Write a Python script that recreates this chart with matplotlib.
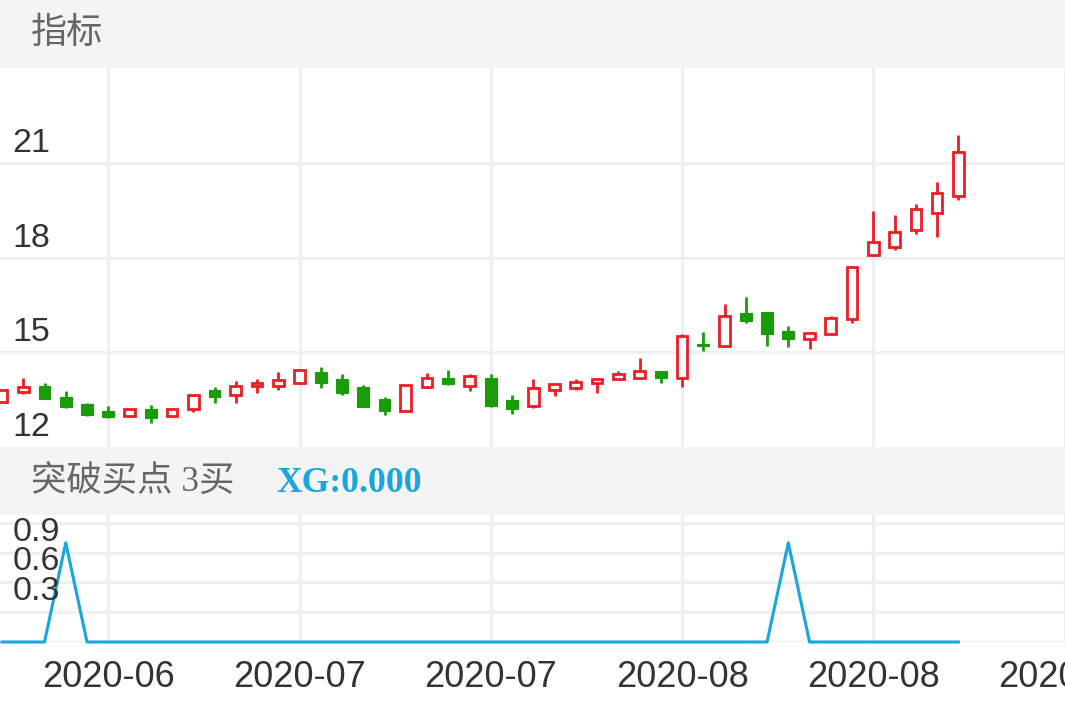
import matplotlib
matplotlib.use("Agg")
import matplotlib.pyplot as plt
from matplotlib.patches import Rectangle
from matplotlib.transforms import blended_transform_factory, offset_copy

# datos de las velas (precio)
aperturas = [13.42, 13.74, 13.94, 13.58, 13.36, 13.14, 12.98, 13.22, 12.98, 13.20,
             13.80, 13.64, 13.94, 13.93, 14.04, 14.38, 14.15, 13.90, 13.51, 13.14,
             13.90, 14.19, 13.94, 14.19, 13.48, 13.29, 13.80, 13.87, 14.03, 14.14,
             14.20, 14.41, 14.20, 15.27, 15.20, 16.25, 16.27, 15.69, 15.43, 15.57,
             16.05, 18.09, 18.35, 18.88, 19.40, 19.96]
cierres = [13.80, 13.90, 13.52, 13.27, 13.01, 12.95, 13.20, 12.93, 13.21, 13.64,
           13.59, 13.94, 14.03, 14.12, 14.43, 14.03, 13.70, 13.27, 13.15, 13.98,
           14.19, 13.99, 14.24, 13.30, 13.22, 13.88, 13.99, 14.06, 14.17, 14.30,
           14.40, 14.20, 15.51, 15.19, 16.14, 15.99, 15.59, 15.43, 15.62, 16.10,
           17.69, 18.51, 18.80, 19.54, 20.04, 21.36]
maximos = [13.82, 14.18, 14.02, 13.77, 13.39, 13.29, 13.22, 13.33, 13.23, 13.64,
           13.89, 14.08, 14.15, 14.38, 14.43, 14.52, 14.30, 13.98, 13.57, 13.98,
           14.33, 14.43, 14.30, 14.30, 13.64, 14.15, 14.01, 14.15, 14.17, 14.40,
           14.82, 14.41, 15.57, 15.64, 16.52, 16.75, 16.29, 15.85, 15.66, 16.14,
           17.69, 19.48, 19.36, 19.69, 20.41, 21.88]
minimos = [13.40, 13.67, 13.52, 13.24, 12.98, 12.91, 12.97, 12.75, 12.97, 13.10,
           13.41, 13.41, 13.70, 13.82, 14.01, 13.87, 13.66, 13.27, 13.01, 13.14,
           13.88, 13.96, 13.77, 13.27, 13.04, 13.24, 13.62, 13.82, 13.71, 14.14,
           14.14, 14.04, 13.90, 15.04, 15.20, 15.92, 15.19, 15.17, 15.09, 15.57,
           15.94, 18.04, 18.25, 18.75, 18.64, 19.83]

# indicador XG (punto de compra)
valores_xg = [0, 0, 0, 1, 0, 0, 0, 0, 0, 0, 0, 0, 0, 0, 0, 0, 0, 0, 0, 0,
              0, 0, 0, 0, 0, 0, 0, 0, 0, 0, 0, 0, 0, 0, 0, 0, 0, 1, 0, 0,
              0, 0, 0, 0, 0, 0]

posiciones_fecha = [5, 14, 23, 32, 41, 50]
etiquetas_fecha = ["2020-06", "2020-07", "2020-07", "2020-08", "2020-08", "2020-09"]
niveles_precio = [12, 15, 18, 21]
niveles_xg = [0.3, 0.6, 0.9]

W, H = 1065, 708
ROJO = "#ee1c24"
VERDE = "#1a9c0a"
AZUL = "#18a5e0"
GRIS_GRID = "#efeff2"
GRIS_BANDA = "#f4f4f4"


def fy(px):
    return 1 - px / H


def preparar_eje(ax):
    for s in ax.spines.values():
        s.set_visible(False)
    ax.tick_params(length=0, labelleft=False, labelbottom=False)
    ax.set_xlim(-2 / 21.25, 50.02)
    for p in posiciones_fecha:
        ax.axvline(p, color=GRIS_GRID, lw=2.2, zorder=0)


def etiquetas_y(fig, ax, niveles, x_px, dy):
    trans = blended_transform_factory(ax.transAxes, ax.transData)
    trans = offset_copy(trans, fig=fig, y=dy, units="dots")
    for v in niveles:
        ax.text(x_px / W, v, f"{v:g}", transform=trans, va="baseline", ha="left",
                fontsize=24.5, color="#333333", family="Liberation Sans", zorder=5)


def graficar_velas(fig):
    ax = fig.add_axes([0, fy(447), 1, (447 - 68) / H])
    preparar_eje(ax)
    ax.set_ylim(12, 24.01)
    for v in [15, 18, 21]:
        ax.axhline(v, color=GRIS_GRID, lw=2.2, zorder=0)

    for i in range(len(aperturas)):
        o, c = aperturas[i], cierres[i]
        sube = c >= o
        color = ROJO if sube else VERDE
        ax.vlines(i, minimos[i], maximos[i], color=color, lw=2.0, zorder=2)
        abajo = min(o, c)
        alto = max(abs(c - o), 0.02)
        if sube:
            ax.bar(i, alto, bottom=abajo, width=0.5, facecolor="white",
                   edgecolor=color, linewidth=2.0, zorder=3)
        else:
            ax.bar(i, alto, bottom=abajo, width=0.56, facecolor=color,
                   edgecolor=color, linewidth=0.8, zorder=3)

    etiquetas_y(fig, ax, niveles_precio, 12, 11)
    return ax


def graficar_xg(fig):
    ax = fig.add_axes([0, fy(642), 1, (642 - 515) / H])
    preparar_eje(ax)
    ax.set_ylim(0, 1.28)
    for v in [0, 0.3, 0.6, 0.9, 1.2]:
        ax.axhline(v, color=GRIS_GRID, lw=2.2, zorder=0)
    ax.plot(range(len(valores_xg)), valores_xg, color=AZUL, lw=2.2,
            clip_on=False, zorder=3)

    ax.set_xticks(posiciones_fecha, etiquetas_fecha)
    ax.tick_params(labelbottom=True, pad=13)
    for t in ax.get_xticklabels():
        t.set_fontsize(26)
        t.set_color("#333333")
        t.set_family("Liberation Sans")

    etiquetas_y(fig, ax, niveles_xg, 13, 12)
    return ax


def main():
    fig = plt.figure(figsize=(W / 100, H / 100), dpi=100)
    fig.patch.set_facecolor("white")

    fig.add_artist(Rectangle((0, fy(68)), 1, 68 / H, transform=fig.transFigure,
                             color=GRIS_BANDA, zorder=0))
    fig.add_artist(Rectangle((0, fy(515)), 1, (515 - 447) / H, transform=fig.transFigure,
                             color=GRIS_BANDA, zorder=0))

    graficar_velas(fig)
    graficar_xg(fig)

    fig.text(31 / W, fy(33), "指标", va="center", ha="left", fontsize=26,
             color="#666666", family="Noto Sans CJK SC")
    fig.text(31 / W, fy(482), "突破买点 3买", va="center", ha="left", fontsize=25.5,
             color="#666666", family=["Liberation Serif", "Noto Sans CJK SC"])
    fig.text(276 / W, fy(483), "XG:0.000", va="center", ha="left", fontsize=25.7,
             color=AZUL, family="Liberation Serif", weight="bold")

    fig.savefig("out.png", dpi=100)


if __name__ == "__main__":
    main()
